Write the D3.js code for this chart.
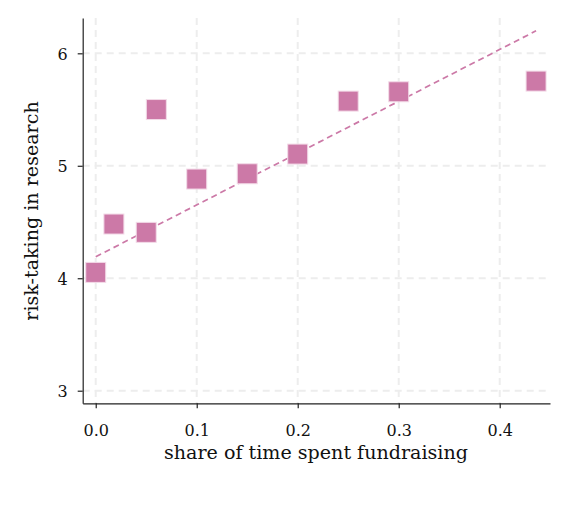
<!DOCTYPE html>
<html><head><meta charset="utf-8">
<script src="https://cdn.jsdelivr.net/npm/d3@7"></script>
<style>body{margin:0;background:#fff}svg{display:block}</style>
</head><body><svg id="c" width="568" height="512"></svg>
<script>
const xValues = [0.0, 0.018, 0.05, 0.06, 0.1, 0.15, 0.2, 0.25, 0.3, 0.436];
const yValues = [4.052, 4.482, 4.408, 5.50, 4.882, 4.929, 5.104, 5.575, 5.658, 5.753];
const fitX = [0.0, 0.436];
const fitY = [4.191, 6.20];
const xTicks = [0.0, 0.1, 0.2, 0.3, 0.4];
const yTicks = [3, 4, 5, 6];
const xLabel = "share of time spent fundraising";
const yLabel = "risk-taking in research";

const FONT = '"DejaVu Serif", "Liberation Serif", serif';
const svg = d3.select("#c");
const L = 82.7, R = 550, T = 18, B = 403.3;
const x = d3.scaleLinear().domain([-0.0129, 0.4498]).range([L, R]);
const y = d3.scaleLinear().domain([2.888, 6.314]).range([B, T]);
const col = "#cc79a7";

const grid = svg.append("g").attr("stroke", "#ededed").attr("stroke-width", 2).attr("stroke-dasharray", "7,5");
grid.selectAll("line.v").data(xTicks).join("line").attr("class","v")
  .attr("x1", d => x(d)).attr("x2", d => x(d)).attr("y1", T).attr("y2", B);
grid.selectAll("line.h").data(yTicks).join("line").attr("class","h")
  .attr("y1", d => y(d)).attr("y2", d => y(d)).attr("x1", L).attr("x2", R);

const xAxis = svg.append("g").attr("transform", `translate(0,${B})`)
  .call(d3.axisBottom(x).tickValues(xTicks).tickFormat(d3.format(".1f")).tickSize(5).tickSizeOuter(0));
const yAxis = svg.append("g").attr("transform", `translate(${L},0)`)
  .call(d3.axisLeft(y).tickValues(yTicks).tickFormat(d3.format("d")).tickSize(5).tickSizeOuter(0));
[xAxis, yAxis].forEach(a => {
  a.attr("font-family", FONT).attr("font-size", 16);
  a.select(".domain").attr("stroke", "#222").attr("stroke-width", 1.2);
  a.selectAll(".tick line").attr("stroke", "#222").attr("stroke-width", 1.2);
  a.selectAll(".tick text").attr("font-family", FONT).attr("font-size", 16).attr("fill", "#111");
});
xAxis.selectAll(".tick text").attr("dy", null).attr("y", 33);
yAxis.selectAll(".tick text").attr("x", -15).attr("dy", "0.36em");

svg.append("line")
  .attr("x1", x(fitX[0])).attr("y1", y(fitY[0])).attr("x2", x(fitX[1])).attr("y2", y(fitY[1]))
  .attr("stroke", col).attr("stroke-width", 1.7).attr("stroke-dasharray", "6,4");

const s = 20;
svg.append("g").selectAll("rect").data(xValues.map((v,i)=>[v,yValues[i]])).join("rect")
  .attr("x", d => x(d[0]) - s/2).attr("y", d => y(d[1]) - s/2)
  .attr("width", s).attr("height", s)
  .attr("fill", col).attr("stroke", "#f3dbe8").attr("stroke-width", 1);

const xl = svg.append("text").attr("x", 316).attr("y", 459).attr("text-anchor", "middle")
  .attr("font-family", FONT).attr("font-size", 17).attr("fill", "#111").text(xLabel);
const yl = svg.append("text").attr("transform", `translate(38,211) rotate(-90)`).attr("text-anchor", "middle")
  .attr("font-family", FONT).attr("font-size", 17).attr("fill", "#111").text(yLabel);
// fit font size to the reference label width
const wx = xl.node().getComputedTextLength();
const fs = 17 * 304 / wx;
xl.attr("font-size", fs);
yl.attr("font-size", fs);
</script></body></html>
